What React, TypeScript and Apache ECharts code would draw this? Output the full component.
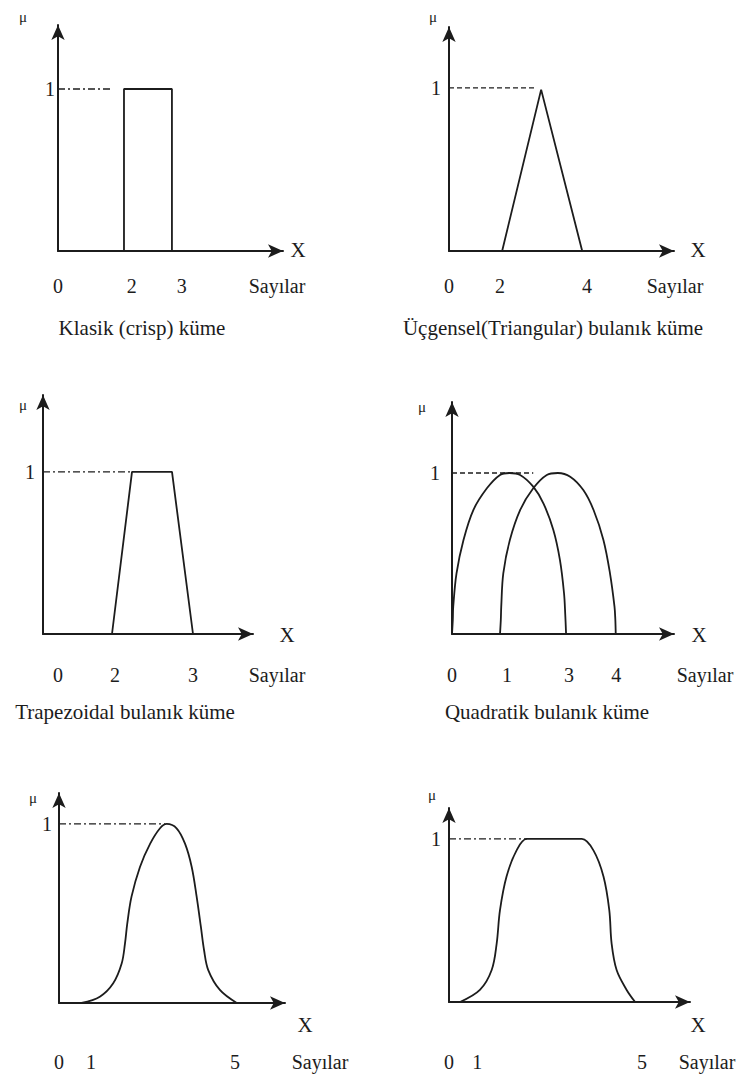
import React, { useEffect, useRef } from 'react';
import * as echarts from 'echarts';

const FONT = 'Liberation Serif, DejaVu Serif, serif';
const INK = '#1c1c1c';

// ---- membership sets, x in each panel's schematic axis units, μ in [0,1] ----
const crispSet = [[1.61, 0], [1.61, 1], [2.78, 1], [2.78, 0]];
const triangularSet = [[1.54, 0], [2.67, 0.99], [3.86, 0]];
const trapezoidalSet = [[1.38, 0], [1.78, 1], [2.58, 1], [3.0, 0]];
const quadraticSetA = [
  [0, 0], [0.02, 0.09], [0.03, 0.17], [0.11, 0.377], [0.28, 0.584], [0.52, 0.77],
  [0.85, 0.905], [1.17, 0.988], [1.4, 1.0], [1.66, 0.988], [1.98, 0.915],
  [2.23, 0.81], [2.47, 0.646], [2.63, 0.46], [2.73, 0.253], [2.76, 0.12], [2.78, 0],
];
const quadraticSetB = [
  [1.17, 0], [1.19, 0.09], [1.2, 0.17], [1.25, 0.377], [1.41, 0.584], [1.66, 0.77],
  [1.98, 0.905], [2.31, 0.988], [2.58, 1.0], [2.88, 0.977], [3.2, 0.894],
  [3.45, 0.77], [3.69, 0.584], [3.85, 0.377], [3.96, 0.17], [3.98, 0.09], [3.99, 0],
];
const bellSet = [
  [0.64, 0], [1.16, 0.035], [1.54, 0.11], [1.78, 0.22], [1.875, 0.333], [1.94, 0.445],
  [2.06, 0.594], [2.3, 0.76], [2.59, 0.89], [2.87, 0.976], [3.06, 1.0], [3.34, 0.976],
  [3.58, 0.89], [3.77, 0.76], [3.91, 0.594], [4.03, 0.426], [4.12, 0.296],
  [4.24, 0.184], [4.57, 0.073], [5.05, 0],
];
const flatBellSet = [
  [0.285, 0], [0.8, 0.074], [1.105, 0.196], [1.235, 0.36], [1.32, 0.564], [1.49, 0.77],
  [1.75, 0.93], [2.01, 1.0], [2.4, 1.0], [3.05, 1.0], [3.44, 1.0], [3.74, 0.93],
  [4.0, 0.77], [4.15, 0.564], [4.21, 0.36], [4.34, 0.196], [4.6, 0.074], [4.82, 0],
];

// ---- tick labels (position on the schematic axis, text) ----
const crispTickPos = [0, 1.8, 3.02];
const crispTickText = ['0', '2', '3'];
const triangularTickPos = [0, 1.48, 4];
const triangularTickText = ['0', '2', '4'];
const trapezoidalTickPos = [0.3, 1.44, 3.0];
const trapezoidalTickText = ['0', '2', '3'];
const quadraticTickPos = [0, 1.34, 2.85, 4.0];
const quadraticTickText = ['0', '1', '3', '4'];
const bellTickPos = [0, 0.91, 5];
const bellTickText = ['0', '1', '5'];
const flatBellTickPos = [0, 0.73, 5];
const flatBellTickText = ['0', '1', '5'];

// end of the reference line drawn at μ = 1
const refLineEnds = [1.27, 2.55, 1.78, 1.98, 3.01, 2.02];

const captions = [
  'Klasik (crisp) küme',
  'Üçgensel(Triangular) bulanık küme',
  'Trapezoidal bulanık küme',
  'Quadratik bulanık küme',
];

const DASH_DOT = [7, 3, 2, 3];
const DASHED = [5, 3];

const panels = [
  {
    grid: { left: 58, top: 25, width: 225, height: 226 }, xMax: 5.49, yMax: 1.395,
    sets: [crispSet], smooth: false, tickPos: crispTickPos, tickText: crispTickText,
    labelMargin: 25, yMargin: 3, refDash: DASH_DOT,
    mu: [23, 17], x: [298, 250], unit: [277, 286], caption: [142, 328],
  },
  {
    grid: { left: 449, top: 27, width: 225, height: 224 }, xMax: 6.52, yMax: 1.374,
    sets: [triangularSet], smooth: false, tickPos: triangularTickPos, tickText: triangularTickText,
    labelMargin: 25, yMargin: 8, refDash: DASHED,
    mu: [433, 17], x: [698, 250], unit: [675, 286], caption: [553, 328],
  },
  {
    grid: { left: 43, top: 395, width: 210, height: 239 }, xMax: 4.2, yMax: 1.475,
    sets: [trapezoidalSet], smooth: false, tickPos: trapezoidalTickPos, tickText: trapezoidalTickText,
    labelMargin: 31, yMargin: 8, refDash: DASH_DOT,
    mu: [23, 405], x: [287, 635], unit: [277, 675], caption: [125, 712],
  },
  {
    grid: { left: 452, top: 402, width: 222, height: 232 }, xMax: 5.41, yMax: 1.441,
    sets: [quadraticSetA, quadraticSetB], smooth: 0.35, tickPos: quadraticTickPos, tickText: quadraticTickText,
    labelMargin: 31, yMargin: 12, refDash: DASHED,
    mu: [422, 407], x: [699, 635], unit: [705, 675], caption: [547, 712],
  },
  {
    grid: { left: 59, top: 793, width: 226, height: 210 }, xMax: 6.42, yMax: 1.173,
    sets: [bellSet], smooth: 0.35, tickPos: bellTickPos, tickText: bellTickText,
    labelMargin: 49, yMargin: 7, refDash: DASH_DOT,
    mu: [33, 798], x: [305, 1025], unit: [320, 1062], caption: null,
  },
  {
    grid: { left: 449, top: 808, width: 241, height: 194 }, xMax: 6.24, yMax: 1.19,
    sets: [flatBellSet], smooth: 0.35, tickPos: flatBellTickPos, tickText: flatBellTickText,
    labelMargin: 50, yMargin: 8, refDash: DASH_DOT,
    mu: [432, 795], x: [698, 1025], unit: [707, 1062], caption: null,
  },
];

function buildOption() {
  const grid: any[] = [];
  const xAxis: any[] = [];
  const yAxis: any[] = [];
  const series: any[] = [];
  const graphic: any[] = [];

  panels.forEach((p, i) => {
    grid.push({ ...p.grid, containLabel: false });
    const pos = p.tickPos;
    const txt = p.tickText;
    xAxis.push({
      type: 'value', gridIndex: i, min: 0, max: p.xMax,
      axisLine: {
        show: true, onZero: false, symbol: ['none', 'arrow'], symbolSize: [10, 15],
        lineStyle: { color: INK, width: 2 },
      },
      axisTick: { show: false },
      splitLine: { show: false },
      axisLabel: {
        customValues: pos,
        showMinLabel: true, showMaxLabel: true, hideOverlap: false,
        margin: p.labelMargin,
        formatter: (v: number) => {
          const k = pos.findIndex((q) => Math.abs(q - v) < 1e-6);
          return k >= 0 ? txt[k] : '';
        },
        color: INK, fontFamily: FONT, fontSize: 20,
      },
    });
    yAxis.push({
      type: 'value', gridIndex: i, min: 0, max: p.yMax,
      axisLine: {
        show: true, onZero: false, symbol: ['none', 'arrow'], symbolSize: [10, 15],
        lineStyle: { color: INK, width: 2 },
      },
      axisTick: { show: false },
      splitLine: { show: false },
      axisLabel: {
        customValues: [1], formatter: () => '1', margin: p.yMargin,
        showMinLabel: true, showMaxLabel: true,
        color: INK, fontFamily: FONT, fontSize: 20,
      },
    });
    series.push({
      type: 'line', xAxisIndex: i, yAxisIndex: i, symbol: 'none', silent: true,
      data: [[0, 1], [refLineEnds[i], 1]],
      lineStyle: { color: INK, width: 1.3, type: p.refDash },
      z: 1,
    });
    p.sets.forEach((s) => {
      series.push({
        type: 'line', xAxisIndex: i, yAxisIndex: i, symbol: 'none', silent: true,
        data: s, smooth: p.smooth,
        lineStyle: { color: INK, width: 1.8 },
        z: 2,
      });
    });
    const txtStyle = (text: string, size: number) => ({
      text, fill: INK, fontFamily: FONT, fontSize: size, align: 'center', verticalAlign: 'middle',
    });
    graphic.push({ type: 'text', x: p.mu[0], y: p.mu[1], style: txtStyle('μ', 15) });
    graphic.push({ type: 'text', x: p.x[0], y: p.x[1], style: txtStyle('X', 21) });
    graphic.push({ type: 'text', x: p.unit[0], y: p.unit[1], style: txtStyle('Sayılar', 20) });
    if (p.caption) {
      graphic.push({ type: 'text', x: p.caption[0], y: p.caption[1], style: txtStyle(captions[i], 21) });
    }
  });

  return {
    animation: false,
    backgroundColor: '#ffffff',
    grid, xAxis, yAxis, series, graphic,
  };
}

export default function App() {
  const ref = useRef<HTMLDivElement>(null);
  useEffect(() => {
    document.body.style.margin = '0';
    const chart = echarts.init(ref.current!, undefined, { renderer: 'svg' });
    chart.setOption(buildOption() as any);
    return () => chart.dispose();
  }, []);
  return (
    <div
      ref={ref}
      style={{ position: 'absolute', left: 0, top: 0, width: 739, height: 1079, background: '#fff' }}
    />
  );
}
